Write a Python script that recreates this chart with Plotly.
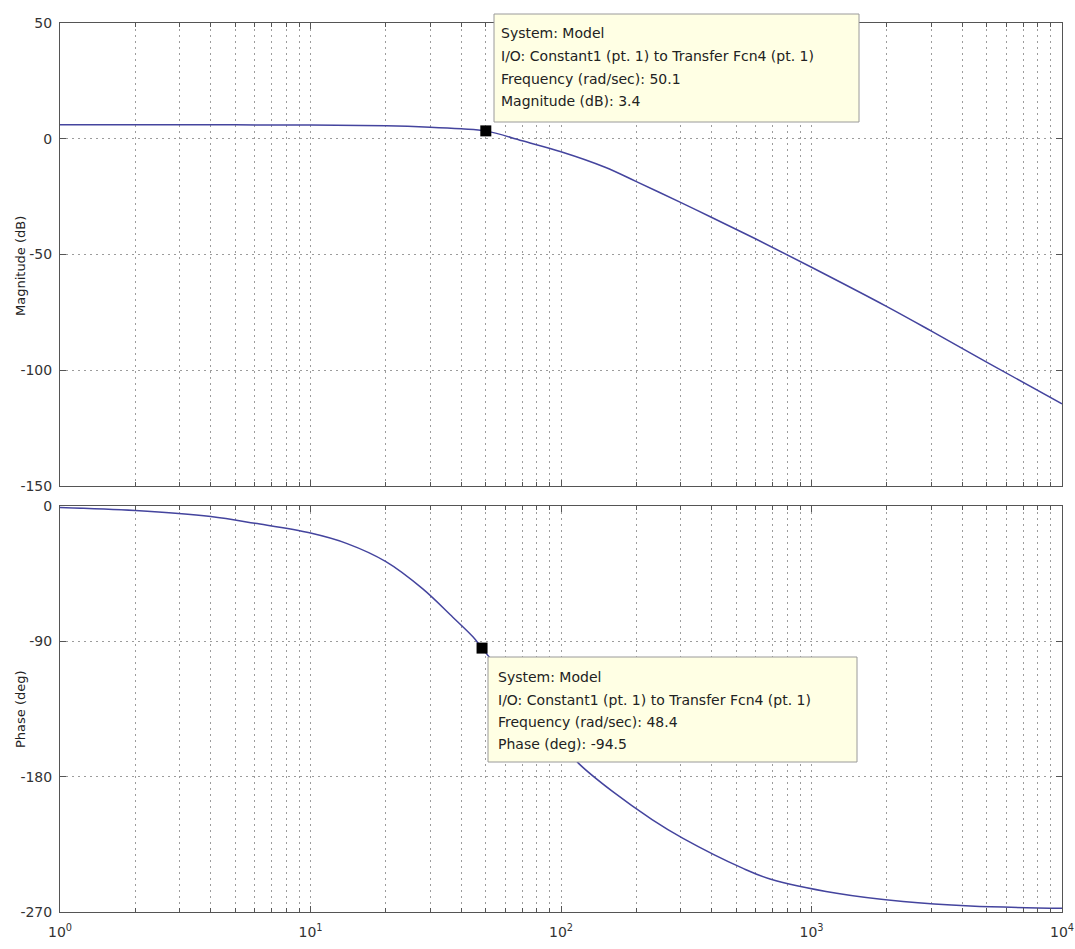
import plotly.graph_objects as go

# ---------------- data ----------------
mag_freq = [1, 2, 5, 10, 20, 30, 40, 50.1, 70, 100, 150, 200, 300, 400, 600, 1000, 2000, 3000, 5000, 10000]
mag_db = [6.0, 6.0, 6.0, 5.9, 5.6, 5.0, 4.3, 3.4, -0.9, -5.6, -12.3, -18.5, -27.5, -34.0, -43.3, -55.5, -72.5, -83.0, -96.5, -114.5]

ph_freq = [1, 2, 4, 6, 10, 14, 20, 28, 37, 44.5, 48.4, 60, 80, 100, 119, 161, 231, 307, 533, 683, 1260, 2320, 4300, 10000]
ph_deg = [-1.0, -3.0, -7.0, -11.5, -18, -25, -37, -55, -74, -87, -94.5, -114, -140, -158, -172, -190, -208.5, -221, -241, -248, -257.5, -263, -266, -267.5]

tip_mag = (50.1, 3.4)
tip_ph = (48.4, -94.5)

mag_ticks = [-150, -100, -50, 0, 50]
ph_ticks = [-270, -180, -90, 0]
x_major = [1, 10, 100, 1000, 10000]
x_labels = ["10<sup>0</sup>", "10<sup>1</sup>", "10<sup>2</sup>", "10<sup>3</sup>", "10<sup>4</sup>"]
x_minor = [m * d for d in [1, 10, 100, 1000] for m in range(2, 10)]

tip1_lines = ["System: Model", "I/O: Constant1 (pt. 1) to Transfer Fcn4 (pt. 1)",
              "Frequency (rad/sec): 50.1", "Magnitude (dB): 3.4"]
tip2_lines = ["System: Model", "I/O: Constant1 (pt. 1) to Transfer Fcn4 (pt. 1)",
              "Frequency (rad/sec): 48.4", "Phase (deg): -94.5"]
y_titles = ["Magnitude (dB)", "Phase (deg)"]

# ---------------- figure ----------------
W, H = 1075, 949
ML, MR, MT, MB = 60, 13, 23, 37
PW, PH = W - ML - MR, H - MT - MB


def px(x):
    return (x - ML) / PW


def py(y):
    return (H - MB - y) / PH


LINE = "#44449e"
FONT = "DejaVu Sans, Liberation Sans, sans-serif"
GRID = "#9c9c9c"
GRID_DASH = "2px,4px"
FRAME = "#555555"
TXT = "#333333"

fig = go.Figure()
line_style = dict(color=LINE, width=1.5, shape="spline", smoothing=1.0)
fig.add_trace(go.Scatter(x=mag_freq, y=mag_db, mode="lines", line=line_style,
                         xaxis="x", yaxis="y", showlegend=False, hoverinfo="skip"))
fig.add_trace(go.Scatter(x=ph_freq, y=ph_deg, mode="lines", line=line_style,
                         xaxis="x2", yaxis="y2", showlegend=False, hoverinfo="skip"))
fig.add_trace(go.Scatter(x=[tip_mag[0]], y=[tip_mag[1]], mode="markers", marker=dict(symbol="square", color="black", size=11),
                         xaxis="x", yaxis="y", showlegend=False, cliponaxis=False, hoverinfo="skip"))
fig.add_trace(go.Scatter(x=[tip_ph[0]], y=[tip_ph[1]], mode="markers", marker=dict(symbol="square", color="black", size=11),
                         xaxis="x2", yaxis="y2", showlegend=False, cliponaxis=False, hoverinfo="skip"))

xcommon = dict(type="log", range=[0, 4], tickvals=x_major, showline=True, linecolor=FRAME, linewidth=1, mirror="allticks",
               ticks="inside", ticklen=6, tickcolor=FRAME, showgrid=True, gridcolor=GRID, griddash=GRID_DASH, gridwidth=1,
               zeroline=False, automargin=False, ticklabelstandoff=7,
               minor=dict(tickvals=x_minor, ticks="inside", ticklen=4, tickcolor=FRAME, showgrid=True,
                          gridcolor=GRID, griddash=GRID_DASH, gridwidth=1),
               tickfont=dict(family=FONT, size=14, color=TXT))
ycommon = dict(showline=True, linecolor=FRAME, linewidth=1, mirror="allticks", ticks="inside", ticklen=6, tickcolor=FRAME,
               showgrid=True, gridcolor=GRID, griddash=GRID_DASH, gridwidth=1, zeroline=False, automargin=False,
               ticklabelstandoff=4, tickfont=dict(family=FONT, size=14, color=TXT))

top_bottom_px, bot_top_px = 486, 506

fig.update_layout(
    width=W, height=H, margin=dict(l=ML, r=MR, t=MT, b=MB, autoexpand=False),
    paper_bgcolor="white", plot_bgcolor="white",
    font=dict(family=FONT, size=13, color=TXT),
    xaxis=dict(xcommon, domain=[0, 1], anchor="y", showticklabels=False),
    yaxis=dict(ycommon, domain=[py(top_bottom_px), 1], range=[-150, 50], tickvals=mag_ticks,
               ticktext=[str(v) for v in mag_ticks], anchor="x"),
    xaxis2=dict(xcommon, domain=[0, 1], anchor="y2", ticktext=x_labels, showticklabels=True),
    yaxis2=dict(ycommon, domain=[0, py(bot_top_px)], range=[-270, 0], tickvals=ph_ticks,
                ticktext=[str(v) for v in ph_ticks], anchor="x2"),
)

for t, yy in zip(y_titles, [266, 709]):
    fig.add_annotation(xref="paper", yref="paper", x=px(20), y=py(yy), text=t, showarrow=False, textangle=-90,
                       xanchor="center", yanchor="middle", font=dict(family=FONT, size=13, color="#222222"))


def add_tip(box, lines, text_x, line_ys):
    x0, y0, x1, y1 = box
    fig.add_shape(type="rect", xref="paper", yref="paper", x0=px(x0), x1=px(x1), y0=py(y1), y1=py(y0),
                  fillcolor="#ffffe4", line=dict(color="#9a9a9a", width=1), layer="above")
    for t, yy in zip(lines, line_ys):
        fig.add_annotation(xref="paper", yref="paper", x=px(text_x), y=py(yy), text=t, showarrow=False,
                           xanchor="left", yanchor="middle", font=dict(family=FONT, size=14, color="#222222"))


add_tip((494, 14, 859, 122), tip1_lines, 499, [33, 56, 79, 101])
add_tip((488, 657, 857, 762), tip2_lines, 496, [677, 700, 722, 744])

fig.write_html("out.html")
